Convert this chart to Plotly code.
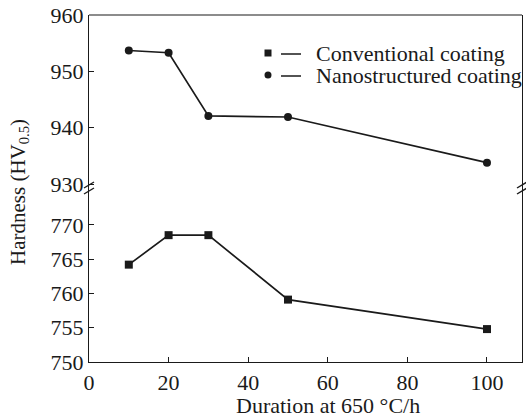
import plotly.graph_objects as go

# Hardness vs. annealing duration at 650 °C
duration = [10, 20, 30, 50, 100]
conventional = [764.2, 768.5, 768.5, 759.1, 754.8]
nanostructured = [953.7, 953.3, 942.1, 941.9, 933.8]
series_names = ["Conventional coating", "Nanostructured coating"]

lower_ticks = [750, 755, 760, 765, 770]
upper_ticks = [930, 940, 950, 960]
x_ticks = [0, 20, 40, 60, 80, 100]

FONT = "Liberation Serif, Times New Roman, serif"
INK = "#1a1a1a"
W, H = 526, 416
ML, MR, MT, MB = 89, 4, 15, 54
PW, PH = W - ML - MR, H - MT - MB
SPLIT = 0.49  # paper fraction where the y-axis is broken


def px_to_paper(px, py):
    return (px - ML) / PW, (H - MB - py) / PH


fig = go.Figure()
fig.add_trace(go.Scatter(
    x=duration, y=conventional, name=series_names[0],
    mode="lines+markers", yaxis="y", showlegend=False,
    line=dict(color=INK, width=1.7),
    marker=dict(symbol="square", size=8, color=INK),
))
fig.add_trace(go.Scatter(
    x=duration, y=nanostructured, name=series_names[1],
    mode="lines+markers", yaxis="y2", showlegend=False,
    line=dict(color=INK, width=1.7),
    marker=dict(symbol="circle", size=8, color=INK),
))

axis_common = dict(
    showline=True, linecolor=INK, linewidth=1.2, mirror=True,
    ticks="inside", ticklen=5, tickcolor=INK, tickwidth=1.2,
    showgrid=False, zeroline=False,
    tickfont=dict(family=FONT, size=22, color=INK),
)

fig.update_layout(
    width=W, height=H,
    margin=dict(l=ML, r=MR, t=MT, b=MB),
    paper_bgcolor="white", plot_bgcolor="white",
    xaxis=dict(
        range=[0, 108.8], tickvals=x_ticks, anchor="y",
        **{k: v for k, v in axis_common.items() if k != "mirror"},
    ),
    yaxis=dict(
        domain=[0, SPLIT], range=[750, 774.8], tickvals=lower_ticks,
        anchor="x", **axis_common,
    ),
    yaxis2=dict(
        domain=[SPLIT, 1], range=[928.6, 960], tickvals=upper_ticks,
        anchor="x", **axis_common,
    ),
)

shapes = []
# top border of the frame
shapes.append(dict(type="line", xref="paper", yref="paper",
                   x0=0, x1=1, y0=1, y1=1, line=dict(color=INK, width=1.2)))
# axis break marks on both sides
for bx in (ML, ML + PW):
    for by in (185, 191):
        x0, y0 = px_to_paper(bx - 5, by + 3)
        x1, y1 = px_to_paper(bx + 5, by - 3)
        shapes.append(dict(type="line", xref="paper", yref="paper",
                           x0=x0, y0=y0, x1=x1, y1=y1,
                           line=dict(color=INK, width=1.4)))

# legend: marker, short dash, then label
legend_rows = [(53, "square"), (75, "circle")]
for (row_y, sym), label in zip(legend_rows, series_names):
    ax0, ay0 = px_to_paper(264.5, row_y + 3.5)
    ax1, ay1 = px_to_paper(271.5, row_y - 3.5)
    shapes.append(dict(type="rect" if sym == "square" else "circle",
                       xref="paper", yref="paper",
                       x0=ax0, y0=ay0, x1=ax1, y1=ay1,
                       fillcolor=INK, line=dict(color=INK, width=0)))
    dx0, dy = px_to_paper(281, row_y + 1)
    dx1, _ = px_to_paper(301, row_y + 1)
    shapes.append(dict(type="line", xref="paper", yref="paper",
                       x0=dx0, x1=dx1, y0=dy, y1=dy,
                       line=dict(color=INK, width=1.5)))
    tx, ty = px_to_paper(314, row_y)
    fig.add_annotation(
        text=label, xref="paper", yref="paper", x=tx, y=ty,
        xanchor="left", yanchor="middle", showarrow=False,
        font=dict(family=FONT, size=22, color=INK),
    )
fig.update_layout(shapes=shapes)

fig.add_annotation(
    text="Hardness (HV<sub>0.5</sub>)", textangle=-90,
    xref="paper", yref="paper",
    x=px_to_paper(19, 0)[0], y=px_to_paper(0, 192)[1],
    xanchor="center", yanchor="middle", showarrow=False,
    font=dict(family=FONT, size=21, color=INK),
)
fig.add_annotation(
    text="Duration at 650 °C/h",
    xref="paper", yref="paper",
    x=px_to_paper(328, 0)[0], y=px_to_paper(0, 405)[1],
    xanchor="center", yanchor="middle", showarrow=False,
    font=dict(family=FONT, size=22, color=INK),
)

fig.write_html("out.html")
